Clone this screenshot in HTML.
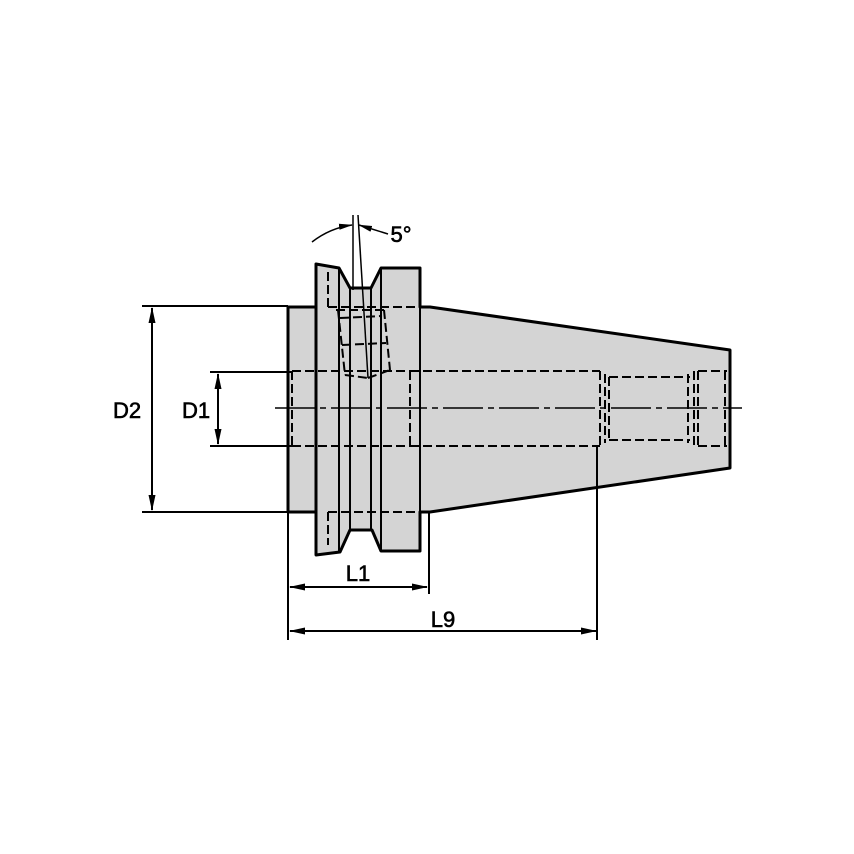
<!DOCTYPE html>
<html><head><meta charset="utf-8"><style>html,body{margin:0;padding:0;background:#fff}svg{display:block}</style></head>
<body>
<svg width="854" height="854" viewBox="0 0 854 854" xmlns="http://www.w3.org/2000/svg" font-family="Liberation Sans, sans-serif">
<defs>
<marker id="a" markerWidth="14" markerHeight="8" refX="13" refY="4" orient="auto" markerUnits="userSpaceOnUse"><path d="M0,1 L14,4 L0,7 Z" fill="#000"/></marker>
</defs>
<g fill="#d4d4d4" stroke="#000" stroke-width="3" stroke-linejoin="round">
<path d="M288,307 L316,307 L316,512 L288,512 Z"/>
<path d="M316,307 L316,264 L339,268 L350,288 L371,288 L381,268 L420,268 L420,307 L430,307 L730,350 L730,468 L430,512 L420,512 L420,551 L381,551 L372,530 L350,530 L340,552 L316,555 L316,512 Z"/>
</g>
<g stroke="#000" stroke-width="2" fill="none">
<line x1="316" y1="307" x2="316" y2="512"/>
<line x1="339" y1="268" x2="339" y2="552"/>
<line x1="350" y1="288" x2="350" y2="530"/>
<line x1="371" y1="288" x2="371" y2="530"/>
<line x1="381" y1="268" x2="381" y2="551"/>
<line x1="420" y1="307" x2="420" y2="512"/>
</g>
<g stroke="#000" stroke-width="2" fill="none" stroke-dasharray="9,4">
<line x1="292" y1="371" x2="410" y2="371"/>
<line x1="292" y1="446" x2="410" y2="446"/>
<line x1="292" y1="371" x2="292" y2="446"/>
<line x1="410" y1="371" x2="410" y2="446"/>
<line x1="410" y1="371" x2="600" y2="371"/>
<line x1="410" y1="446" x2="600" y2="446"/>
<line x1="600" y1="371" x2="600" y2="446"/>
<line x1="605" y1="374" x2="605" y2="443"/>
<line x1="609" y1="377" x2="690" y2="377"/>
<line x1="609" y1="440" x2="690" y2="440"/>
<line x1="609" y1="377" x2="609" y2="440"/>
<line x1="688" y1="374" x2="688" y2="443"/>
<line x1="694" y1="371" x2="694" y2="446"/>
<line x1="698" y1="371" x2="698" y2="446"/>
<line x1="698" y1="371" x2="727" y2="371"/>
<line x1="698" y1="446" x2="727" y2="446"/>
<line x1="725" y1="371" x2="725" y2="446"/>
<line x1="328" y1="272" x2="328" y2="307"/>
<line x1="328" y1="307" x2="420" y2="307"/>
<line x1="328" y1="512" x2="328" y2="545"/>
<line x1="328" y1="512" x2="420" y2="512"/>
<line x1="336" y1="310" x2="384" y2="310"/>
<line x1="340" y1="318" x2="382" y2="316"/>
<line x1="338" y1="310" x2="345" y2="375"/>
<line x1="384" y1="310" x2="390" y2="370"/>
<line x1="342" y1="345" x2="386" y2="343"/>
<line x1="345" y1="375" x2="368" y2="378"/>
<line x1="368" y1="378" x2="390" y2="370"/>
</g>
<line x1="275" y1="408" x2="742" y2="408" stroke="#000" stroke-width="1.5" stroke-dasharray="40,5,6,5"/>
<g stroke="#000" stroke-width="1.5" fill="none">
<line x1="353" y1="215" x2="353" y2="290"/>
<line x1="358" y1="215" x2="368" y2="378"/>
<path d="M312,242 Q330,228 352,225" marker-end="url(#a)"/>
<line x1="388" y1="234" x2="359" y2="225" marker-end="url(#a)"/>
</g>
<g stroke="#000" stroke-width="2" fill="none">
<line x1="142" y1="306" x2="288" y2="306"/>
<line x1="142" y1="512" x2="288" y2="512"/>
<line x1="152" y1="308" x2="152" y2="510"/>
<line x1="210" y1="372" x2="292" y2="372"/>
<line x1="210" y1="446" x2="292" y2="446"/>
<line x1="218" y1="374" x2="218" y2="444"/>
<line x1="288" y1="512" x2="288" y2="640"/>
<line x1="429" y1="512" x2="429" y2="594"/>
<line x1="597" y1="445" x2="597" y2="640"/>
<line x1="290" y1="587" x2="427" y2="587"/>
<line x1="290" y1="631" x2="596" y2="631"/>
</g>
<g fill="#000">
<path d="M152,307 L148.5,323 L155.5,323 Z"/>
<path d="M152,511 L148.5,495 L155.5,495 Z"/>
<path d="M218,373 L214.5,389 L221.5,389 Z"/>
<path d="M218,445 L214.5,429 L221.5,429 Z"/>
<path d="M289,587 L305,583.5 L305,590.5 Z"/>
<path d="M428,587 L412,583.5 L412,590.5 Z"/>
<path d="M289,631 L305,627.5 L305,634.5 Z"/>
<path d="M597,631 L581,627.5 L581,634.5 Z"/>
</g>
<g font-size="22" text-anchor="middle" stroke="#000" stroke-width="0.6">
<text x="401" y="242">5°</text>
<text x="127" y="418">D2</text>
<text x="196" y="418">D1</text>
<text x="358" y="581">L1</text>
<text x="443" y="627">L9</text>
</g>
</svg>
</body></html>
